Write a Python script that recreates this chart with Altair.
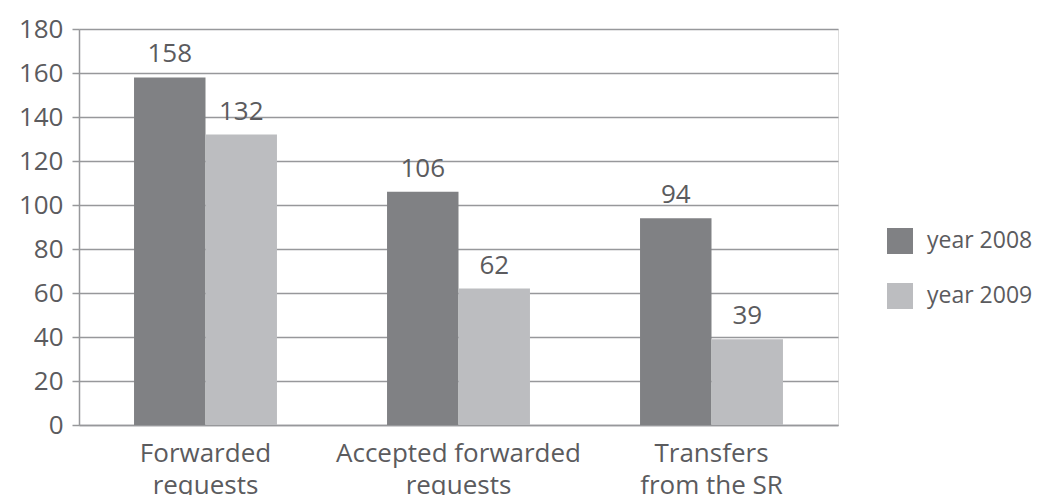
import altair as alt
import pandas as pd

categories = ["Forwarded requests", "Accepted forwarded requests", "Transfers from the SR"]
label_lines = {
    "Forwarded requests": ["Forwarded", "requests"],
    "Accepted forwarded requests": ["Accepted forwarded", "requests"],
    "Transfers from the SR": ["Transfers", "from the SR"],
}
years = ["year 2008", "year 2009"]
values_2008 = [158, 106, 94]
values_2009 = [132, 62, 39]
y_ticks = [0, 20, 40, 60, 80, 100, 120, 140, 160, 180]

rows = []
for c, v in zip(categories, values_2008):
    rows.append({"category": c, "year": years[0], "value": v})
for c, v in zip(categories, values_2009):
    rows.append({"category": c, "year": years[1], "value": v})
df = pd.DataFrame(rows)

# label expression for two-line category labels
parts = []
for c in categories:
    l1, l2 = label_lines[c]
    parts.append(f"datum.value == '{c}' ? ['{l1}', '{l2}']")
label_expr = " : ".join(parts) + " : datum.label"

FONT = "Open Sans"
FS = 26
TXT = "#5b5b5e"
GRID = "#97989b"

x = alt.X(
    "category:N",
    sort=categories,
    title=None,
    scale=alt.Scale(paddingInner=0.435, paddingOuter=0.2175),
    axis=alt.Axis(
        labelExpr=label_expr,
        labelAngle=0,
        labelFontSize=FS,
        labelFont=FONT,
        labelColor=TXT,
        labelLineHeight=32,
        labelPadding=15,
        labelLimit=400,
        ticks=False,
        domain=True,
        domainColor=GRID,
        domainWidth=1.5,
        grid=False,
    ),
)

base = alt.Chart(df).encode(
    x=x,
    xOffset=alt.XOffset("year:N", sort=years, scale=alt.Scale(paddingInner=0, paddingOuter=0)),
    y=alt.Y(
        "value:Q",
        title=None,
        scale=alt.Scale(domain=[0, 180], nice=False),
        axis=alt.Axis(
            values=y_ticks,
            labelFontSize=FS,
            labelFont=FONT,
            labelColor=TXT,
            labelPadding=9,
            tickSize=7,
            tickColor=GRID,
            tickWidth=1.5,
            domainColor=GRID,
            domainWidth=1.5,
            gridColor=GRID,
            gridWidth=1.5,
        ),
    ),
)

bars = base.mark_bar().encode(
    color=alt.Color(
        "year:N",
        sort=years,
        scale=alt.Scale(domain=years, range=["#808184", "#bcbdc0"]),
        legend=alt.Legend(
            title=None,
            orient="none",
            legendX=808,
            legendY=199,
            padding=0,
            symbolType="square",
            symbolSize=676,
            symbolStrokeWidth=0,
            symbolOpacity=1,
            rowPadding=29,
            labelOffset=14,
            labelFontSize=23,
            labelFont=FONT,
            labelColor=TXT,
            labelLimit=300,
        ),
    )
)

labels = base.mark_text(
    baseline="alphabetic", dy=-15, fontSize=FS, font=FONT, color=TXT
).encode(text=alt.Text("value:Q"))

chart = (
    alt.layer(bars, labels)
    .properties(
        width=759,
        height=396,
        autosize=alt.AutoSizeParams(type="none"),
        padding={"left": 71, "top": 21, "right": 204, "bottom": 70},
    )
    .configure_view(stroke=None)
    .configure(background="white")
)

chart.save("out.html", embed_options={"renderer": "svg", "actions": False})
